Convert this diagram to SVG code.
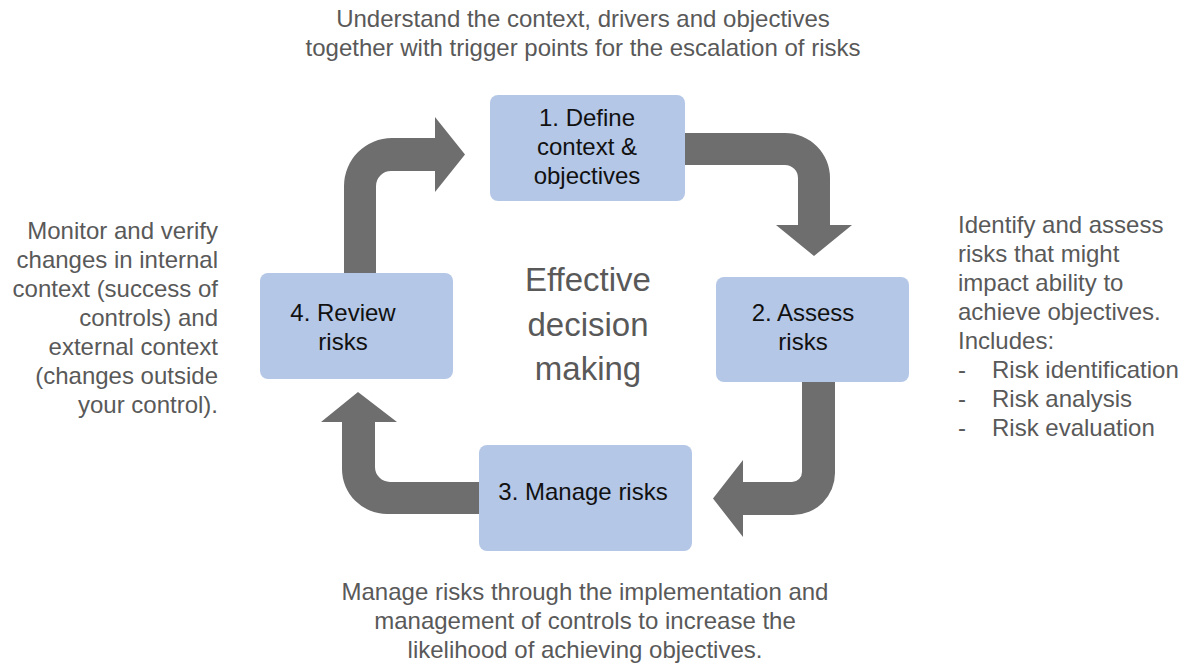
<svg xmlns="http://www.w3.org/2000/svg" width="1186" height="666" viewBox="0 0 1186 666">
  <style>
    text { font-family: "Liberation Sans", Arial, Helvetica, sans-serif; }
    .note { font-size: 24px; fill: #595959; }
    .label { font-size: 24px; fill: #111111; text-anchor: middle; }
    .hub { font-size: 33px; fill: #595959; text-anchor: middle; }
    .box { fill: #b4c7e7; }
    .flow { fill: #6e6e6e; }
  </style>
  <rect width="1186" height="666" fill="#ffffff"/>

  <!-- curved block arrows linking the four steps -->
  <g id="connectors">
    <path id="arrow-4-1" class="flow" d="M 344 280 L 344 186 A 48 48 0 0 1 392 138 L 435 138 L 435 117 L 465 154.5 L 435 192 L 435 171 L 391 171 A 15 15 0 0 0 376 186 L 376 280 Z"/>
    <path id="arrow-1-2" class="flow" d="M 678 133 L 785 133 A 45 45 0 0 1 830 178 L 830 225 L 852 225 L 814 256 L 776 225 L 798 225 L 798 178 A 13 13 0 0 0 785 165 L 678 165 Z"/>
    <path id="arrow-2-3" class="flow" d="M 802 375 L 835 375 L 835 473 A 42 42 0 0 1 793 515 L 743 515 L 743 537 L 713 498.5 L 743 460 L 743 482 L 792 482 A 10 10 0 0 0 802 472 Z"/>
    <path id="arrow-3-4" class="flow" d="M 486 482 L 390 482 A 15 15 0 0 1 375 467 L 375 422 L 397 422 L 358 392 L 321 422 L 342 422 L 342 469 A 45 45 0 0 0 387 514 L 486 514 Z"/>
  </g>

  <g id="step-1">
    <rect class="box" x="490" y="95" width="195" height="106" rx="8"/>
    <text class="label" x="587" y="126">1. Define</text>
    <text class="label" x="587" y="155">context &amp;</text>
    <text class="label" x="587" y="184">objectives</text>
  </g>

  <g id="step-2">
    <rect class="box" x="716" y="277" width="193" height="105" rx="8"/>
    <text class="label" x="803" y="321">2. Assess</text>
    <text class="label" x="803" y="350">risks</text>
  </g>

  <g id="step-3">
    <rect class="box" x="479" y="445" width="213" height="106" rx="8"/>
    <text class="label" x="583" y="500">3. Manage risks</text>
  </g>

  <g id="step-4">
    <rect class="box" x="260" y="273" width="193" height="106" rx="8"/>
    <text class="label" x="343" y="321">4. Review</text>
    <text class="label" x="343" y="350">risks</text>
  </g>

  <g id="hub">
    <text class="hub" x="588" y="291">Effective</text>
    <text class="hub" x="588" y="336">decision</text>
    <text class="hub" x="588" y="380">making</text>
  </g>

  <g id="note-context" class="note" text-anchor="middle">
    <text x="583" y="27">Understand the context, drivers and objectives</text>
    <text x="583" y="56">together with trigger points for the escalation of risks</text>
  </g>

  <g id="note-assess" class="note">
    <text x="958" y="233">Identify and assess</text>
    <text x="958" y="262">risks that might</text>
    <text x="958" y="291">impact ability to</text>
    <text x="958" y="320">achieve objectives.</text>
    <text x="958" y="349">Includes:</text>
    <text x="958" y="378">-</text><text x="992" y="378">Risk identification</text>
    <text x="958" y="407">-</text><text x="992" y="407">Risk analysis</text>
    <text x="958" y="436">-</text><text x="992" y="436">Risk evaluation</text>
  </g>

  <g id="note-review" class="note" text-anchor="end">
    <text x="218" y="239">Monitor and verify</text>
    <text x="218" y="268">changes in internal</text>
    <text x="218" y="297">context (success of</text>
    <text x="218" y="326">controls) and</text>
    <text x="218" y="355">external context</text>
    <text x="218" y="384">(changes outside</text>
    <text x="218" y="413">your control).</text>
  </g>

  <g id="note-manage" class="note" text-anchor="middle">
    <text x="585" y="600">Manage risks through the implementation and</text>
    <text x="585" y="629">management of controls to increase the</text>
    <text x="585" y="658">likelihood of achieving objectives.</text>
  </g>
</svg>
